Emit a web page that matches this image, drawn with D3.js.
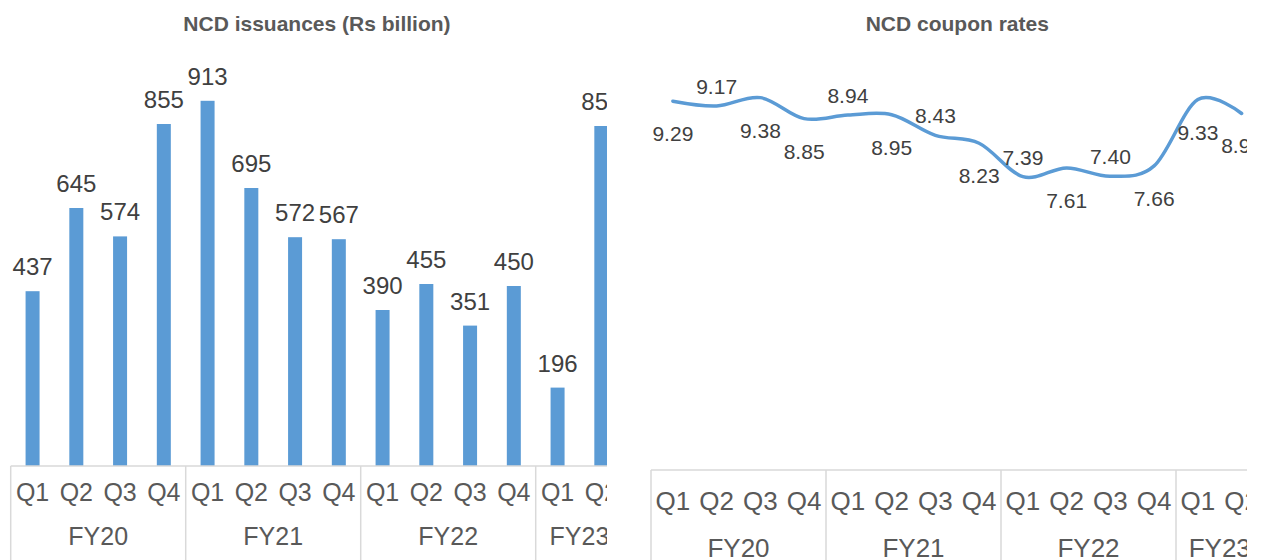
<!DOCTYPE html>
<head>
    <script src="https://d3js.org/d3.v7.min.js"></script>
</head>
<body style="margin:0; background:#fff">
    <svg width="1263" height="560"></svg>
    <script>
        var quarters = ["Q1","Q2","Q3","Q4","Q1","Q2","Q3","Q4","Q1","Q2","Q3","Q4","Q1","Q2"];
        var years = ["FY20","FY21","FY22","FY23"];
        var issuances = [437, 645, 574, 855, 913, 695, 572, 567, 390, 455, 351, 450, 196, 850];
        var coupons = [9.29, 9.17, 9.38, 8.85, 8.94, 8.95, 8.43, 8.23, 7.39, 7.61, 7.40, 7.66, 9.33, 8.98];
        var couponLabelSide = ["below","above","below","below","above","below","above","below","above","below","above","below","below","below"];

        var FONT = "'Liberation Sans', Arial, sans-serif";
        var BLUE = "#5b9bd5";
        var AXIS = "#d9d9d9";

        var svg = d3.select("svg").style("font-family", FONT);
        var idx = d3.range(quarters.length);

        var defs = svg.append("defs");
        defs.append("clipPath").attr("id", "clipL")
            .append("rect").attr("x", 0).attr("y", 0).attr("width", 607).attr("height", 560);
        defs.append("clipPath").attr("id", "clipR")
            .append("rect").attr("x", 640).attr("y", 0).attr("width", 607).attr("height", 560);

        // two-level category axis: quarters, then fiscal years (4 quarters each)
        function catAxis(g, x0, x1, y0, qSize, qBase, fySize, fyBase) {
            var qx = d3.scaleBand().domain(idx).range([x0, x1]);
            var groups = years.map(function(y, k) {
                var a = qx(k * 4);
                var b = (k * 4 + 4 < idx.length) ? qx(k * 4 + 4) : x1;
                return { name: y, a: a, b: b };
            });

            g.append("line")
                .attr("x1", x0).attr("x2", x1)
                .attr("y1", y0).attr("y2", y0)
                .attr("stroke", AXIS).attr("stroke-width", 1.5);

            g.selectAll(".sep")
                .data(groups.map(function(d) { return d.a; }).concat([x1]))
                .enter().append("line")
                .attr("class", "sep")
                .attr("x1", function(d) { return d; })
                .attr("x2", function(d) { return d; })
                .attr("y1", y0).attr("y2", 560)
                .attr("stroke", AXIS).attr("stroke-width", 1.5);

            g.selectAll(".q")
                .data(idx)
                .enter().append("text")
                .attr("class", "q")
                .attr("x", function(d) { return qx(d) + qx.bandwidth() / 2; })
                .attr("y", qBase)
                .attr("text-anchor", "middle")
                .attr("font-size", qSize)
                .attr("fill", "#595959")
                .text(function(d) { return quarters[d]; });

            g.selectAll(".fy")
                .data(groups)
                .enter().append("text")
                .attr("class", "fy")
                .attr("x", function(d) { return (d.a + d.b) / 2; })
                .attr("y", fyBase)
                .attr("text-anchor", "middle")
                .attr("font-size", fySize)
                .attr("fill", "#595959")
                .text(function(d) { return d.name; });
        }

        // ---------- left: issuances ----------
        var L0 = 10.7, L1 = 623.2;
        var left = svg.append("g").attr("clip-path", "url(#clipL)");

        left.append("text")
            .attr("x", (L0 + L1) / 2).attr("y", 31)
            .attr("text-anchor", "middle")
            .attr("font-size", 21).attr("font-weight", "bold")
            .attr("fill", "#595959")
            .text("NCD issuances (Rs billion)");

        var xb = d3.scaleBand().domain(idx).range([L0, L1]).paddingInner(0.68).paddingOuter(0.34);
        var yb = d3.scaleLinear().domain([0, 1000]).range([466, 66]);

        left.selectAll(".bar")
            .data(idx)
            .enter().append("rect")
            .attr("class", "bar")
            .attr("x", function(d) { return xb(d); })
            .attr("width", xb.bandwidth())
            .attr("y", function(d) { return yb(issuances[d]); })
            .attr("height", function(d) { return yb(0) - yb(issuances[d]); })
            .attr("fill", BLUE);

        left.selectAll(".blabel")
            .data(idx)
            .enter().append("text")
            .attr("class", "blabel")
            .attr("x", function(d) { return xb(d) + xb.bandwidth() / 2; })
            .attr("y", function(d) { return yb(issuances[d]) - 16; })
            .attr("text-anchor", "middle")
            .attr("font-size", 24)
            .attr("fill", "#404040")
            .text(function(d) { return issuances[d]; });

        catAxis(left, L0, L1, 466, 25, 501, 25, 545);

        // ---------- right: coupon rates ----------
        var R0 = 651, R1 = 1263.5;
        var right = svg.append("g").attr("clip-path", "url(#clipR)");

        right.append("text")
            .attr("x", (R0 + R1) / 2).attr("y", 31)
            .attr("text-anchor", "middle")
            .attr("font-size", 21).attr("font-weight", "bold")
            .attr("fill", "#595959")
            .text("NCD coupon rates");

        var xp = d3.scalePoint().domain(idx).range([R0, R1]).padding(0.5);
        var yp = d3.scaleLinear().domain([0, 10]).range([470, 73]);

        var line = d3.line()
            .x(function(d) { return xp(d); })
            .y(function(d) { return yp(coupons[d]); })
            .curve(d3.curveCatmullRom.alpha(0));

        right.append("path")
            .datum(idx)
            .attr("d", line)
            .attr("fill", "none")
            .attr("stroke", BLUE)
            .attr("stroke-width", 3.5)
            .attr("stroke-linecap", "round");

        right.selectAll(".plabel")
            .data(idx)
            .enter().append("text")
            .attr("class", "plabel")
            .attr("x", function(d) { return xp(d); })
            .attr("y", function(d) {
                return yp(coupons[d]) + (couponLabelSide[d] === "below" ? 40 : -12);
            })
            .attr("text-anchor", "middle")
            .attr("font-size", 21)
            .attr("fill", "#404040")
            .text(function(d) { return coupons[d].toFixed(2); });

        catAxis(right, R0, R1, 470, 26, 510, 26, 557);
    </script>
</body>
